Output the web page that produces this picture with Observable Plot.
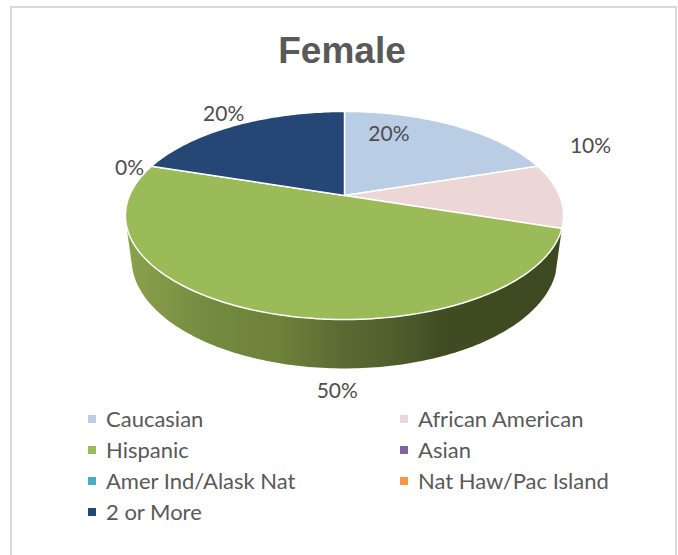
<!DOCTYPE html>
<html>
<head>
<meta charset="utf-8">
<script src="https://cdn.jsdelivr.net/npm/d3@7"></script>
<script src="https://cdn.jsdelivr.net/npm/@observablehq/plot@0.6"></script>
<style>
  html, body { margin: 0; padding: 0; background: #fff; }
  #page { position: relative; width: 678px; height: 555px; overflow: hidden; font-family: Lato, sans-serif; color: #595959; }
  #frame { position: absolute; left: 10px; top: 6px; width: 663px; height: 600px; border: 2px solid #d9d9d9; }
  #title { position: absolute; left: 0; top: 30px; width: 684px; text-align: center; font: bold 37px "Liberation Sans", Arial, sans-serif; color: #595959; }
  #chart { position: absolute; left: 0; top: 90px; }
  #legend { position: absolute; left: 88px; top: 403px; display: grid; grid-template-columns: 312px 220px; grid-auto-rows: 31px; font-size: 22px; }
  #legend div { display: flex; align-items: center; white-space: nowrap; }
  #legend i { display: inline-block; width: 8px; height: 8px; margin-right: 10px; }
</style>
</head>
<body>
<div id="page">
  <div id="frame"></div>
  <div id="title"></div>
  <div id="chart"></div>
  <div id="legend"></div>
</div>
<script>
const titleText = "Female";
const categories = ["Caucasian", "African American", "Hispanic", "Asian", "Amer Ind/Alask Nat", "Nat Haw/Pac Island", "2 or More"];
const values = [20, 10, 50, 0, 0, 0, 20];
const colors = ["#b9cde5", "#ecd7d6", "#9bbb59", "#8064a2", "#4bacc6", "#f79646", "#254775"];

// Only one of the coinciding zero slices carries a visible label.
const labelled = ["Caucasian", "African American", "Hispanic", "Asian", "2 or More"];
// Manual data-label offsets from the slice's mid-rim point, in pixels.
const labelNudge = {
  "Caucasian": [-65, 9],
  "African American": [31, -49],
  "Hispanic": [74, 79],
  "Asian": [-22, 2],
  "2 or More": [-11.5, -11]
};

// Perspective view of the disc, in units of the x/y scales.
const backShrink = 0.192, depthShrink = 0.028, wallDrop = 0.443;
const pxX = 215, pxY = 100.2;
const project = (deg, h = 0) => {
  const a = deg * Math.PI / 180, u = Math.sin(a), v = Math.cos(a);
  const d = 1 + backShrink * v + depthShrink * h;
  return {x: u / d, y: (v - wallDrop * h) / d};
};

const total = d3.sum(values);
let acc = 0;
const slices = categories.map((name, i) => {
  const start = acc / total * 360;
  acc += values[i];
  return {name, value: values[i], start, end: acc / total * 360};
});

const faceRows = slices.filter(s => s.value > 0).flatMap(s => {
  const rows = [{name: s.name, x: 0, y: 0}];
  for (let a = s.start; a < s.end; a += 1) rows.push({name: s.name, ...project(a)});
  rows.push({name: s.name, ...project(s.end)}, {name: s.name, x: 0, y: 0});
  return rows;
});

// Only the slice facing the viewer shows its side wall.
const front = slices.find(s => s.name === "Hispanic");
const rim = [];
for (let a = front.start; a <= front.end; a += 1) rim.push(project(a, 0), project(a, 1));
const wall = d3.polygonHull(rim.map(p => [p.x, p.y])).map(([x, y]) => ({x, y}));

const wallStops = [[0, "#8ba24e"], [0.2, "#728a3f"], [0.35, "#6e8239"], [0.5, "#5a6a33"], [0.65, "#4c5a2b"], [0.72, "#404c22"], [1, "#3d4920"]];
const wallGradient = () => {
  const defs = d3.create("svg:defs");
  const g = defs.append("linearGradient").attr("id", "wallShade");
  wallStops.forEach(([o, c]) => g.append("stop").attr("offset", o).attr("stop-color", c));
  return defs.node();
};

const labelRows = slices.filter(s => labelled.includes(s.name)).map(s => {
  const p = project((s.start + s.end) / 2);
  const [nx, ny] = labelNudge[s.name];
  return {x: p.x + nx / pxX, y: p.y - ny / pxY, text: `${s.value}%`};
});

const plot = Plot.plot({
  width: 678, height: 310,
  margin: 0,
  x: {domain: [-1, 1], range: [344 - pxX, 344 + pxX], axis: null},
  y: {domain: [-1, 1], range: [105 + pxY, 105 - pxY], axis: null},
  color: {domain: categories, range: colors},
  style: {background: "transparent", overflow: "visible"},
  marks: [
    wallGradient,
    Plot.line(wall, {x: "x", y: "y", fill: "url(#wallShade)", stroke: "none", curve: "linear-closed"}),
    Plot.line(faceRows, {x: "x", y: "y", z: "name", fill: "name", stroke: "#fff", strokeWidth: 1.5, strokeLinejoin: "round"}),
    Plot.text(labelRows, {x: "x", y: "y", text: "text", fontSize: 21, fontFamily: "Lato, sans-serif", fill: "#4d4d4d"})
  ]
});
document.getElementById("chart").append(plot);
document.getElementById("title").textContent = titleText;

const legend = d3.select("#legend");
categories.forEach((name, i) => {
  const item = legend.append("div");
  item.append("i").style("background", colors[i]);
  item.append("span").text(name);
});
</script>
</body>
</html>
